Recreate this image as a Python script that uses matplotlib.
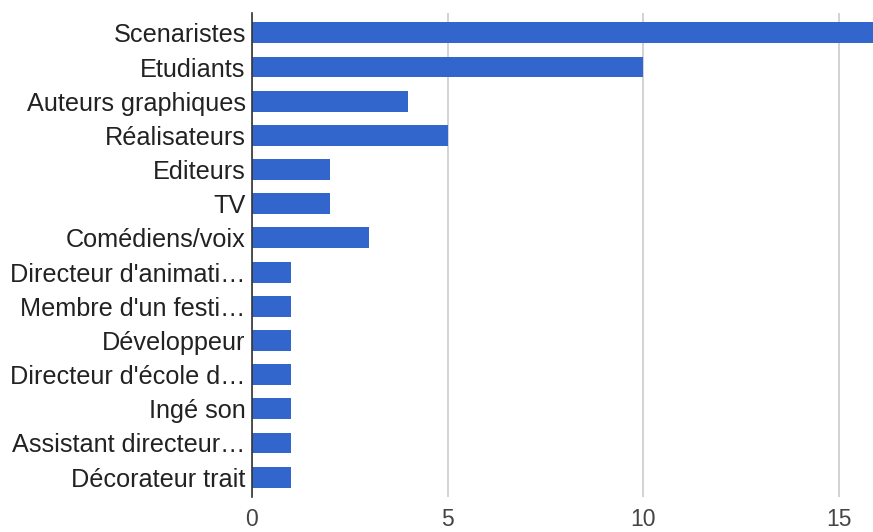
#horizontal bar chart of respondent professions, google-charts look.
#the top bar runs past the right edge in the original, so xlim clips it.

import matplotlib
matplotlib.use("Agg")
import matplotlib.pyplot as plt

categories = [
    "Scenaristes", "Etudiants", "Auteurs graphiques", "Réalisateurs",
    "Editeurs", "TV", "Comédiens/voix", "Directeur d'animati…",
    "Membre d'un festi…", "Développeur", "Directeur d'école d…",
    "Ingé son", "Assistant directeur…", "Décorateur trait",
]
counts = [16, 10, 4, 5, 2, 2, 3, 1, 1, 1, 1, 1, 1, 1]
xticks = [0, 5, 10, 15]

plt.rcParams["font.family"] = ["Liberation Sans", "DejaVu Sans"]

fig = plt.figure(figsize=(8.73, 5.32), dpi=100)
ax = fig.add_axes([252 / 873, 35 / 532, 621 / 873, 484 / 532])

ypos = list(range(len(categories)))
ax.barh(ypos, counts, height=0.61, color="#3366cc", zorder=3)

ax.set_xlim(0, 15.88)
ax.set_ylim(len(categories) - 1 + 0.58, -0.58)
ax.set_xticks(xticks)
ax.set_xticklabels([str(t) for t in xticks])
ax.set_yticks(ypos)
ax.set_yticklabels(categories)

ax.grid(axis="x", color="#cccccc", linewidth=1.2, zorder=0)
for side in ["top", "right", "bottom"]:
    ax.spines[side].set_visible(False)
ax.spines["left"].set_color("#333333")
ax.spines["left"].set_linewidth(1.2)
ax.spines["left"].set_zorder(4)

ax.tick_params(axis="y", length=0, pad=4.5, labelsize=18.2, labelcolor="#222222")
ax.tick_params(axis="x", length=0, pad=8, labelsize=16.5, labelcolor="#444444")

fig.savefig("out.png", dpi=100)
plt.close(fig)
